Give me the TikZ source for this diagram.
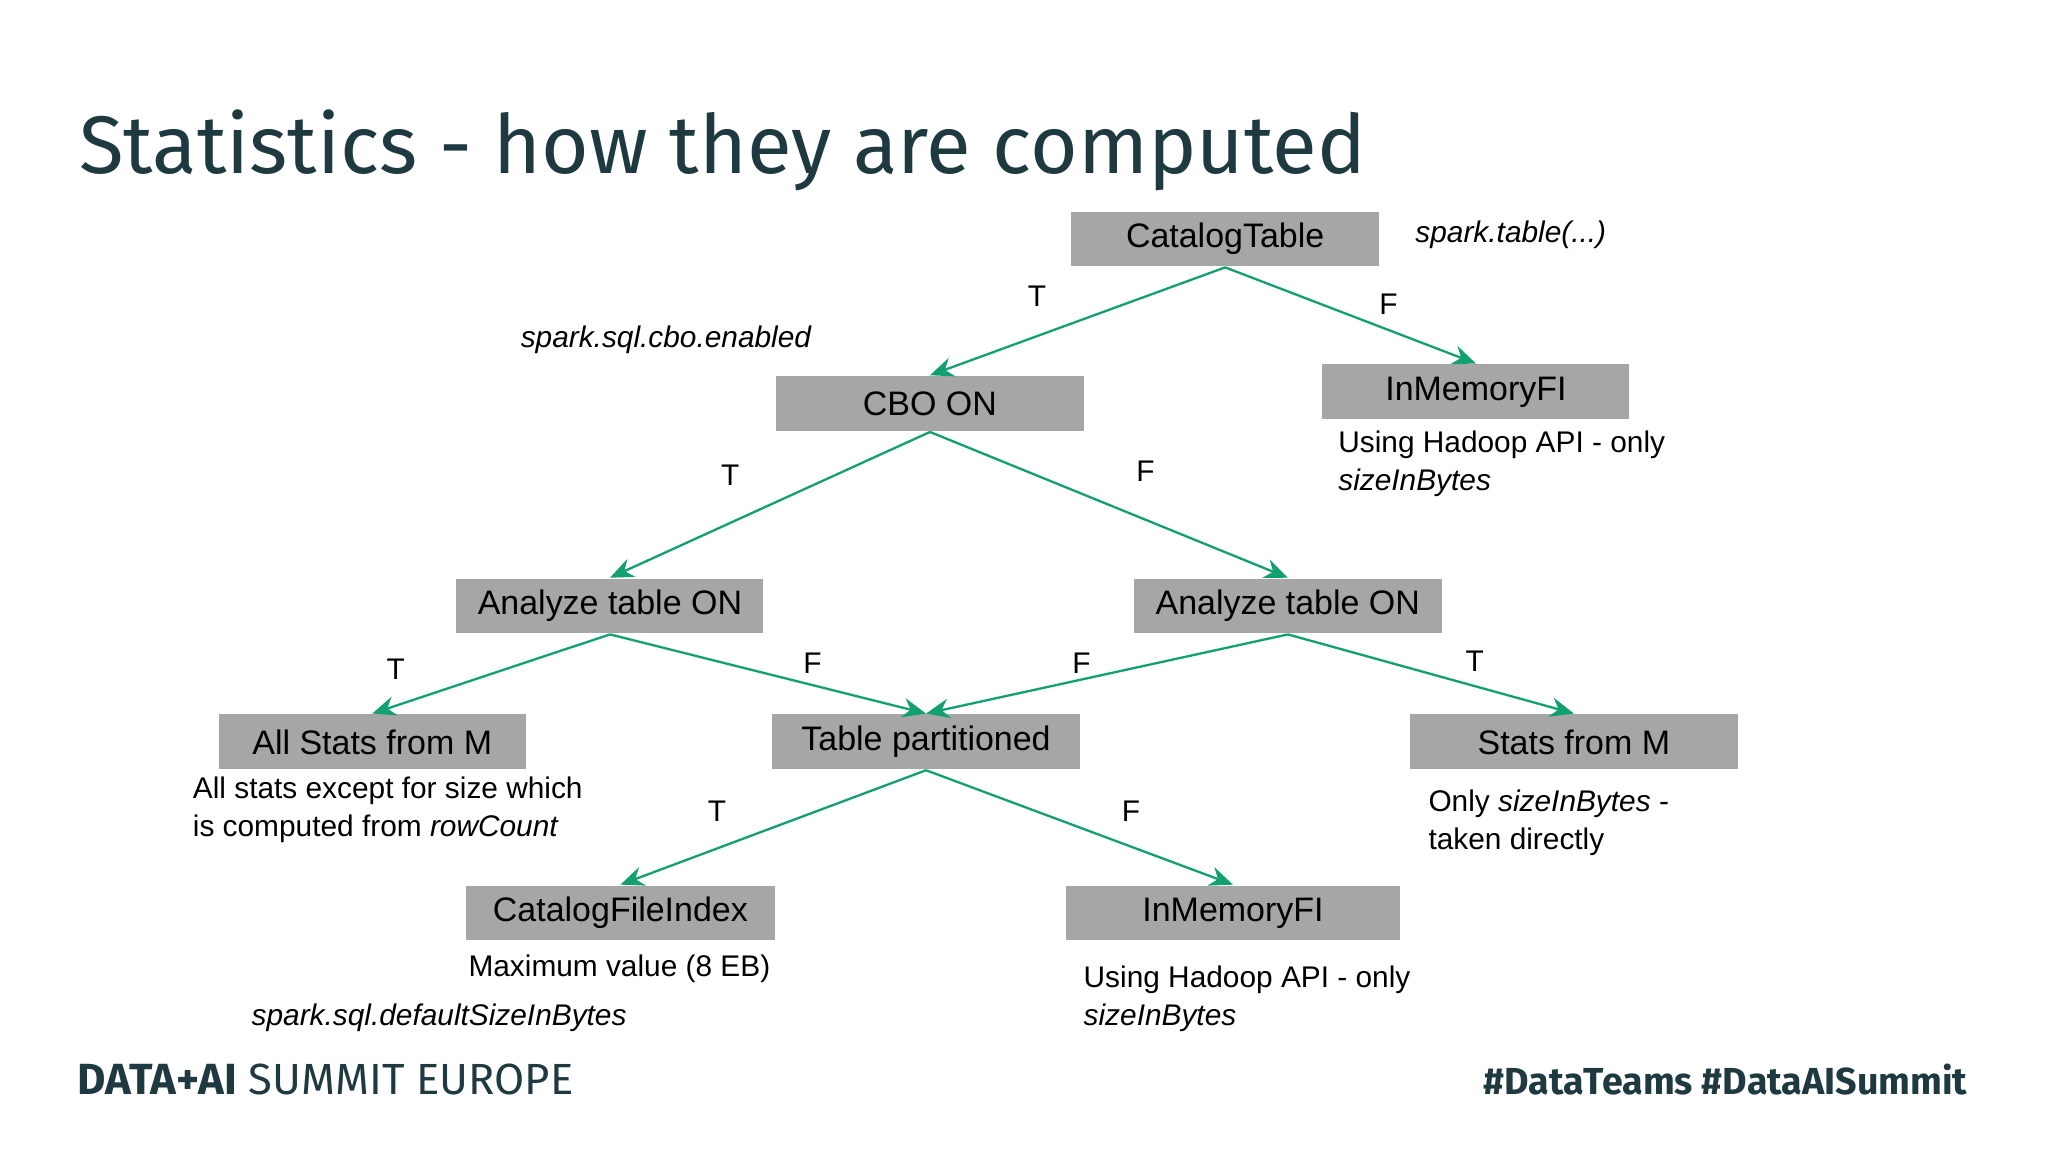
\documentclass[tikz,border=0pt]{standalone}
\usepackage{fontspec}
\setmainfont{Liberation Sans}
\newfontfamily\titlefont{Fira Sans}
\usetikzlibrary{arrows.meta}
\definecolor{boxg}{HTML}{A6A6A6}
\definecolor{edgeg}{HTML}{13A071}
\definecolor{dark}{HTML}{1E3A40}
\tikzset{
 bx/.style={fill=boxg,minimum height=4.2mm,inner sep=0pt,font=\fontsize{7.4pt}{9pt}\selectfont},
 ed/.style={edgeg,line width=0.5pt,-{Stealth[length=1.8mm,width=1.5mm]}},
 lb/.style={font=\fontsize{6.5pt}{8pt}\selectfont,inner sep=0pt},
 nt/.style={font=\fontsize{6.5pt}{8.3pt}\selectfont,inner sep=0pt,align=left,anchor=north west},
}
\begin{document}
\begin{tikzpicture}[x=0.1mm,y=-0.1mm]
\useasboundingbox[fill=white] (0,0) rectangle (1568,882);
\node[anchor=base west,inner sep=0,text=dark,font=\titlefont\fontsize{17.8pt}{20pt}\selectfont] (title) at (60,133) {Statistics - how they are computed};
\node[bx,minimum width=23.6mm] (ct) at (938,183) {CatalogTable};
\node[bx,minimum width=23.6mm] (cbo) at (712,309) {CBO ON};
\node[bx,minimum width=23.5mm] (imt) at (1130,300) {InMemoryFI};
\node[bx,minimum width=23.5mm] (al) at (467,464) {Analyze table ON};
\node[bx,minimum width=23.6mm] (ar) at (986,464) {Analyze table ON};
\node[bx,minimum width=23.5mm] (as) at (285,568) {All Stats from M};
\node[bx,minimum width=23.6mm] (tp) at (709,568) {Table partitioned};
\node[bx,minimum width=25.1mm] (sm) at (1205,568) {Stats from M};
\node[bx,minimum width=23.6mm] (cfi) at (475,699) {CatalogFileIndex};
\node[bx,minimum width=25.5mm] (imb) at (944,699) {InMemoryFI};
\draw[ed] (ct.south) -- (cbo.north);
\draw[ed] (ct.south) -- (imt.north);
\draw[ed] (cbo.south) -- (al.north);
\draw[ed] (cbo.south) -- (ar.north);
\draw[ed] (al.south) -- (as.north);
\draw[ed] (al.south) -- (tp.north);
\draw[ed] (ar.south) -- (tp.north);
\draw[ed] (ar.south) -- (sm.north);
\draw[ed] (tp.south) -- (cfi.north);
\draw[ed] (tp.south) -- (imb.north);
\node[lb] (l1) at (794,227) {T};
\node[lb] (l2) at (1063,233) {F};
\node[lb] (l3) at (559,364) {T};
\node[lb] (l4) at (877,361) {F};
\node[lb] (l5) at (303,512) {T};
\node[lb] (l6) at (622,508) {F};
\node[lb] (l7) at (828,508) {F};
\node[lb] (l8) at (1129,506) {T};
\node[lb] (l9) at (549,621) {T};
\node[lb] (l10) at (866,621) {F};
\node[nt,anchor=west] (n0) at (1083,180) {\itshape spark.table(...)};
\node[nt,anchor=west] (n1) at (398,260) {\itshape spark.sql.cbo.enabled};
\node[nt] (n2) at (1024,329) {Using Hadoop API - only\\\itshape sizeInBytes};
\node[nt] (n3) at (147,594) {All stats except for size which\\is computed from \textit{rowCount}};
\node[nt] (n4) at (1093,604) {Only \textit{sizeInBytes} -\\taken directly};
\node[nt] (n5) at (358,730) {Maximum value (8 EB)};
\node[nt,anchor=west] (n6) at (192,779) {\itshape spark.sql.defaultSizeInBytes};
\node[nt] (n7) at (829,739) {Using Hadoop API - only\\\itshape sizeInBytes};
\node[anchor=base west,inner sep=0,text=dark,font=\titlefont\fontsize{9.5pt}{11pt}\selectfont] (ft) at (59,838) {\textbf{DATA+AI} SUMMIT EUROPE};
\node[anchor=base east,inner sep=0,text=dark,font=\titlefont\bfseries\fontsize{8.2pt}{10pt}\selectfont] (fh) at (1507,838) {\#DataTeams \#DataAISummit};
\end{tikzpicture}
\end{document}
